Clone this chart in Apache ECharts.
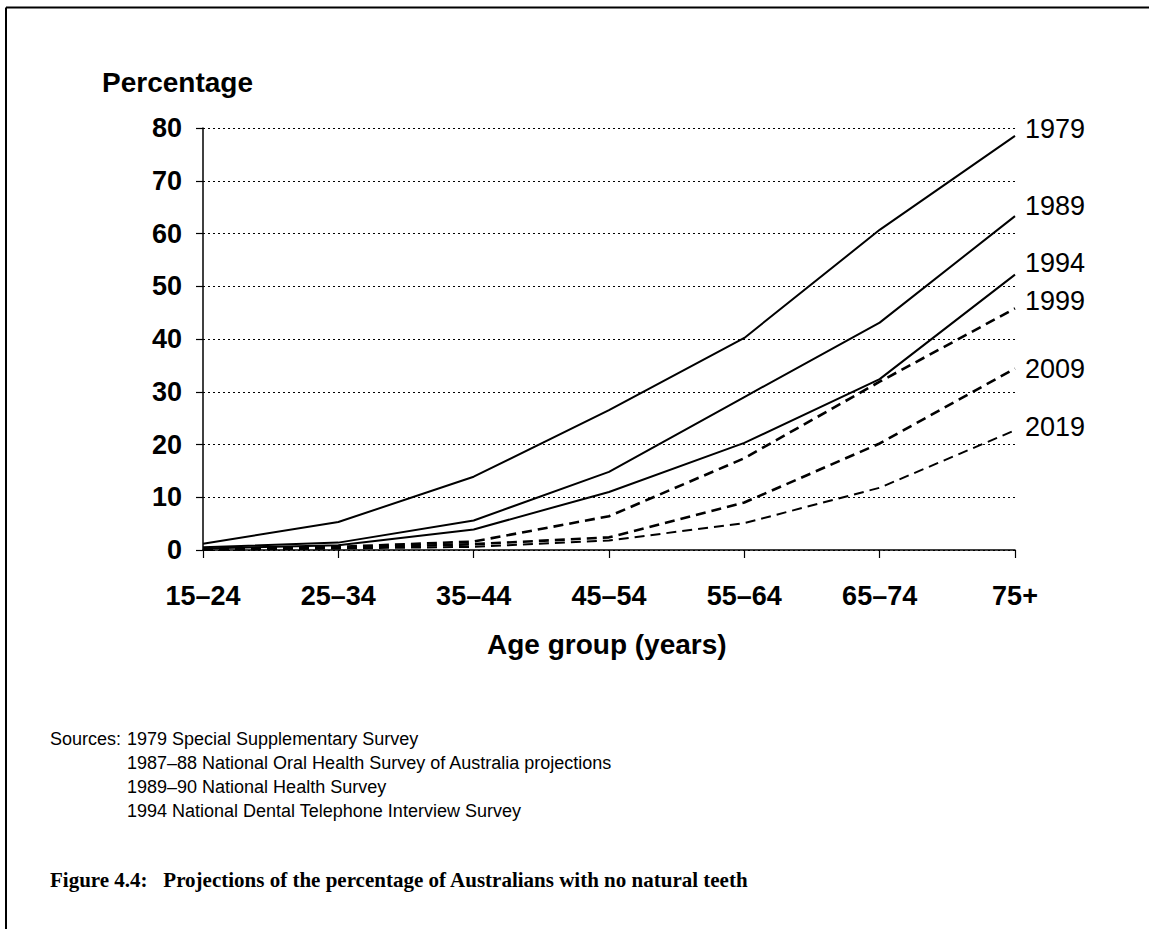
<!DOCTYPE html>
<html><head><meta charset="utf-8">
<script src="https://cdn.jsdelivr.net/npm/echarts@6/dist/echarts.min.js"></script>
<style>html,body{margin:0;padding:0;background:#fff}#c{width:1149px;height:929px}</style>
</head><body><div id="c"></div>
<script>
// ---- data ----
const categories = ['15–24', '25–34', '35–44', '45–54', '55–64', '65–74', '75+'];
const s1979 = [1.2, 5.3, 13.9, 26.5, 40.2, 60.7, 78.5];
const s1989 = [0.5, 1.4, 5.6, 14.8, 29.0, 43.1, 63.3];
const s1994 = [0.3, 0.9, 3.9, 11.0, 20.3, 32.4, 52.2];
const s1999 = [0.2, 0.6, 1.6, 6.4, 17.4, 31.9, 45.8];
const s2009 = [0.1, 0.4, 1.1, 2.4, 9.0, 20.2, 34.4];
const s2019 = [0.0, 0.3, 0.6, 1.8, 5.1, 11.8, 22.7];
const seriesNames = ['1979', '1989', '1994', '1999', '2009', '2019'];
const yMin = 0, yMax = 80, yStep = 10;
const yTitle = 'Percentage';
const xTitle = 'Age group (years)';
const sourcesHead = 'Sources:';
const sourceLines = [
  '1979 Special Supplementary Survey',
  '1987–88 National Oral Health Survey of Australia projections',
  '1989–90 National Health Survey',
  '1994 National Dental Telephone Interview Survey'
];
const caption = 'Figure 4.4:   Projections of the percentage of Australians with no natural teeth';

const SANS = '"Liberation Sans", Arial, sans-serif';
const SERIF = '"Liberation Serif", "DejaVu Serif", serif';

const seriesData = [s1979, s1989, s1994, s1999, s2009, s2019];
const dashed = [false, false, false, true, true, true];
const widths = [2, 2, 2, 2.6, 2.6, 2];
const labelDy = [-7, -10, -12, -7, 0, -3];

const chart = echarts.init(document.getElementById('c'), null, {renderer: 'svg'});

const series = seriesData.map((d, i) => ({
  name: seriesNames[i],
  type: 'line',
  data: d,
  symbol: 'none',
  silent: true,
  animation: false,
  lineStyle: {color: '#000', width: widths[i], type: dashed[i] ? [10, 6] : 'solid'},
  endLabel: {
    show: true, formatter: '{a}', color: '#000', fontSize: 27,
    fontFamily: SANS, fontWeight: 'normal', distance: 10, offset: [0, labelDy[i]]
  }
}));

const srcFont = '18px ' + SANS;
const gfx = [
  {type: 'line', shape: {x1: 6, y1: 7.5, x2: 1149, y2: 7.5}, style: {stroke: '#000', lineWidth: 2}},
  {type: 'line', shape: {x1: 6, y1: 7.5, x2: 6, y2: 929}, style: {stroke: '#000', lineWidth: 2}},
  {type: 'text', left: 102, top: 68, style: {text: yTitle, font: 'bold 28px ' + SANS, fill: '#000'}},
  {type: 'text', left: 487, top: 630, style: {text: xTitle, font: 'bold 28px ' + SANS, fill: '#000'}},
  {type: 'text', left: 50, top: 730, style: {text: sourcesHead, font: srcFont, fill: '#000'}},
  {type: 'text', left: 127, top: 730, style: {text: sourceLines[0], font: srcFont, fill: '#000'}},
  {type: 'text', left: 127, top: 754, style: {text: sourceLines[1], font: srcFont, fill: '#000'}},
  {type: 'text', left: 127, top: 778, style: {text: sourceLines[2], font: srcFont, fill: '#000'}},
  {type: 'text', left: 127, top: 802, style: {text: sourceLines[3], font: srcFont, fill: '#000'}},
  {type: 'text', left: 50, top: 869, style: {text: caption, font: 'bold 21px ' + SERIF, fill: '#000'}}
];

chart.setOption({
  animation: false,
  backgroundColor: '#fff',
  grid: {left: 203, right: 134, top: 128, bottom: 379, containLabel: false},
  xAxis: {
    type: 'category', data: categories, boundaryGap: false,
    axisLine: {lineStyle: {color: '#000', width: 1.5}},
    axisTick: {show: true, length: 8, lineStyle: {color: '#000', width: 1.2}},
    axisLabel: {color: '#000', fontSize: 27, fontWeight: 'bold', fontFamily: SANS, margin: 32, interval: 0},
    splitLine: {show: false}
  },
  yAxis: {
    type: 'value', min: yMin, max: yMax, interval: yStep,
    axisLine: {show: true, lineStyle: {color: '#000', width: 1.5}},
    axisTick: {show: true, length: 7, lineStyle: {color: '#000', width: 1.2}},
    axisLabel: {color: '#000', fontSize: 27, fontWeight: 'bold', fontFamily: SANS, margin: 21},
    splitLine: {show: true, lineStyle: {color: '#000', width: 1, type: [2, 3]}}
  },
  series: series,
  graphic: gfx
});
</script></body></html>
